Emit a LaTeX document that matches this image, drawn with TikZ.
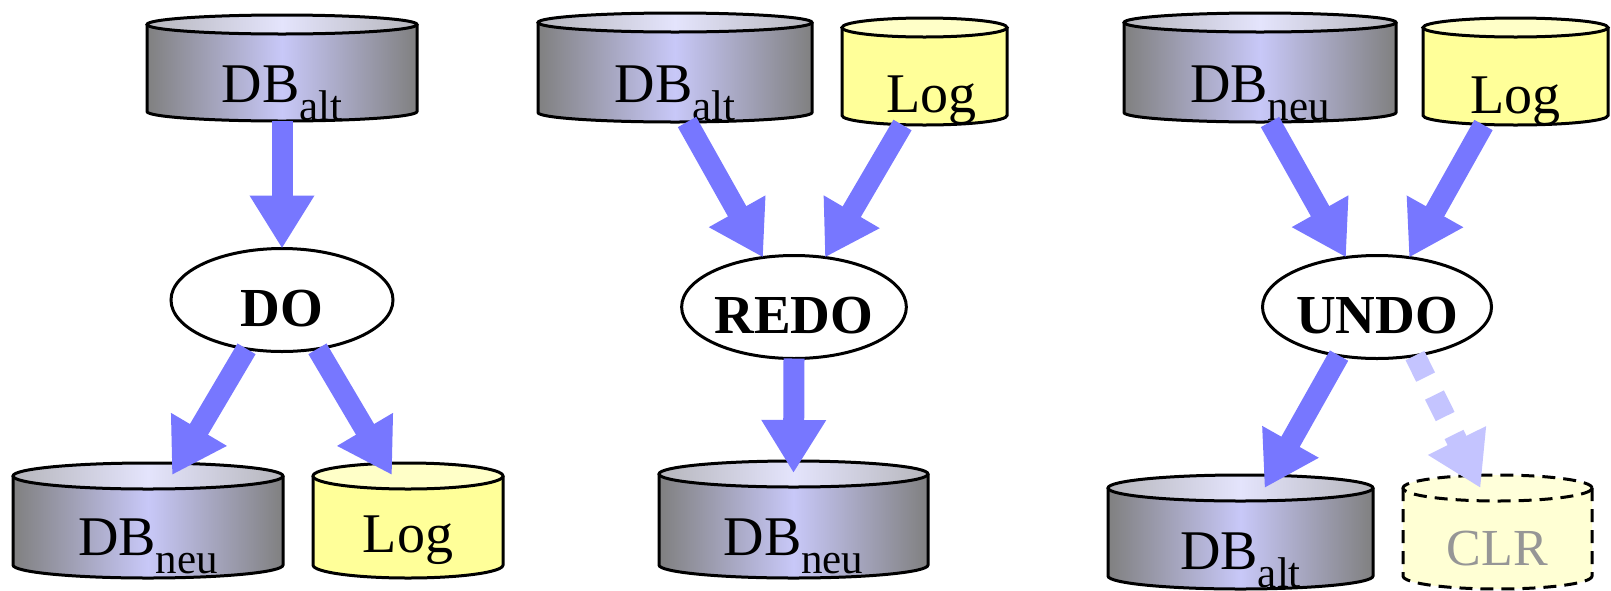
\documentclass[tikz,border=0pt]{standalone}
\usepackage{fontspec}
\setmainfont{Liberation Serif}
\usetikzlibrary{arrows.meta,calc,shapes.geometric}
\definecolor{arrowblue}{RGB}{119,119,255}
\definecolor{lightarrow}{RGB}{196,196,255}
\definecolor{cgray}{RGB}{128,128,128}
\definecolor{clav}{RGB}{200,200,248}
\definecolor{tgray}{RGB}{182,182,188}
\definecolor{tlav}{RGB}{228,228,252}
\definecolor{logside}{RGB}{255,255,153}
\definecolor{logtop}{RGB}{255,255,200}
\definecolor{clrfill}{RGB}{255,255,212}
\definecolor{clrtop}{RGB}{255,255,218}
\definecolor{clrtext}{RGB}{150,150,150}
\tikzset{
  dbside/.style={left color=cgray,right color=cgray,middle color=clav},
  dbtop/.style={left color=tgray,right color=tgray,middle color=tlav},
  dbline/.style={draw=black,line width=3pt},
  logside/.style={fill=logside},
  logtop/.style={fill=logtop},
  logline/.style={draw=black,line width=3pt},
  clrside/.style={fill=clrfill},
  clrtop/.style={fill=clrtop},
  clrline/.style={draw=black,line width=3pt,dash pattern=on 13pt off 8pt},
  cylnode/.style={rectangle,inner sep=0pt,outer sep=0pt,font=\fontsize{56}{60}\selectfont},
  opnode/.style={ellipse,draw=black,fill=white,line width=3pt,inner sep=0pt,outer sep=0pt,
    minimum width=222pt,minimum height=103pt,font=\fontsize{55}{60}\selectfont\bfseries},
  bigarrow/.style={draw=arrowblue,line width=21pt,-{Triangle[width=61pt,length=53pt]}},
  lightdash/.style={draw=lightarrow,line width=21pt,dash pattern=on 24pt off 20pt,
    -{Triangle[width=61pt,length=53pt,fill=lightarrow]}},
}
\newcommand\dbsub[1]{DB\raisebox{-18pt}{\fontsize{43}{46}\selectfont #1}}
\newcommand\opbase[1]{\raisebox{-26pt}[0pt][0pt]{#1}}
% #1 name, #2 x1, #3 x2, #4 ytop, #5 ybot, #6 ry, #7 kind, #8 baseline, #9 text
\newcommand\cyl[9]{%
  \pgfmathsetmacro\cx{(#2+#3)/2}%
  \pgfmathsetmacro\cy{(#4+#5)/2}%
  \pgfmathsetmacro\ca{(#3-#2)/2}%
  \pgfmathsetmacro\yt{#4+#6}%
  \pgfmathsetmacro\yb{#5-#6}%
  \pgfmathsetmacro\off{#8-\cy}%
  \fill[#7side] (#2,\yt) -- (#2,\yb) arc[start angle=180,end angle=0,x radius=\ca,y radius=#6] -- (#3,\yt) -- cycle;
  \draw[#7line] (#2,\yt) -- (#2,\yb) arc[start angle=180,end angle=0,x radius=\ca,y radius=#6] -- (#3,\yt);
  \path[#7top,#7line] (\cx,\yt) ellipse[x radius=\ca,y radius=#6];
  \node[cylnode,minimum width=#3-#2,minimum height=#5-#4] (#1) at (\cx,\cy) {\raisebox{-\off pt}[0pt][0pt]{#9}};
}
\begin{document}
\begin{tikzpicture}[x=1pt,y=-1pt]
\useasboundingbox (0,0) rectangle (1611,590);
% top row
\cyl{dbA}{147}{417}{15}{121}{9.5}{db}{102}{\dbsub{alt}}
\cyl{dbC}{538}{812}{13}{122}{9.5}{db}{102}{\dbsub{alt}}
\cyl{logC}{842}{1007}{18}{125}{9.5}{log}{112}{\hspace*{14pt}Log}
\cyl{dbE}{1124}{1396}{13}{122}{9.5}{db}{102}{\dbsub{neu}}
\cyl{logE}{1423}{1608}{18}{125}{9.5}{log}{113}{Log}
% bottom row
\cyl{dbB}{13}{283}{463}{578}{13}{db}{555}{\dbsub{neu}}
\cyl{logB}{313}{503}{463}{578}{13}{log}{552}{Log}
\cyl{dbD}{659}{928}{461}{578}{13}{db}{555}{\dbsub{neu}}
\cyl{dbF}{1108}{1373}{475}{589}{13}{db}{569}{\dbsub{alt}}
\cyl{clr}{1403}{1592}{475}{589}{13}{clr}{565}{\fontsize{52}{56}\selectfont\color{clrtext}CLR}
% operations
\node[opnode] (do) at (282,300) {\opbase{DO}};
\node[opnode] (redo) at (794,307) {\opbase{REDO}};
\node[opnode] (undo) at (1377,307) {\opbase{UNDO}};
% DO
\draw[bigarrow] (dbA.south) -- (do.north);
\draw[bigarrow] (do.-126) -- ($(dbB.north)+(24,12)$);
\draw[bigarrow] (do.-54) -- ($(logB.north)+(-16,12)$);
% REDO
\draw[bigarrow] ($(dbC.south)+(12,0)$) -- (redo.122);
\draw[bigarrow] ($(logC.south)+(-22,0)$) -- (redo.58);
\draw[bigarrow] (redo.south) -- ($(dbD.north)+(0,12)$);
% UNDO
\draw[bigarrow] ($(dbE.south)+(10,0)$) -- (undo.122);
\draw[bigarrow] ($(logE.south)+(-32,0)$) -- (undo.57);
\draw[bigarrow] (undo.-128) -- ($(dbF.north)+(24,13)$);
\draw[lightdash] (undo.-52) -- ($(clr.north)+(-17,13)$);
\end{tikzpicture}
\end{document}
